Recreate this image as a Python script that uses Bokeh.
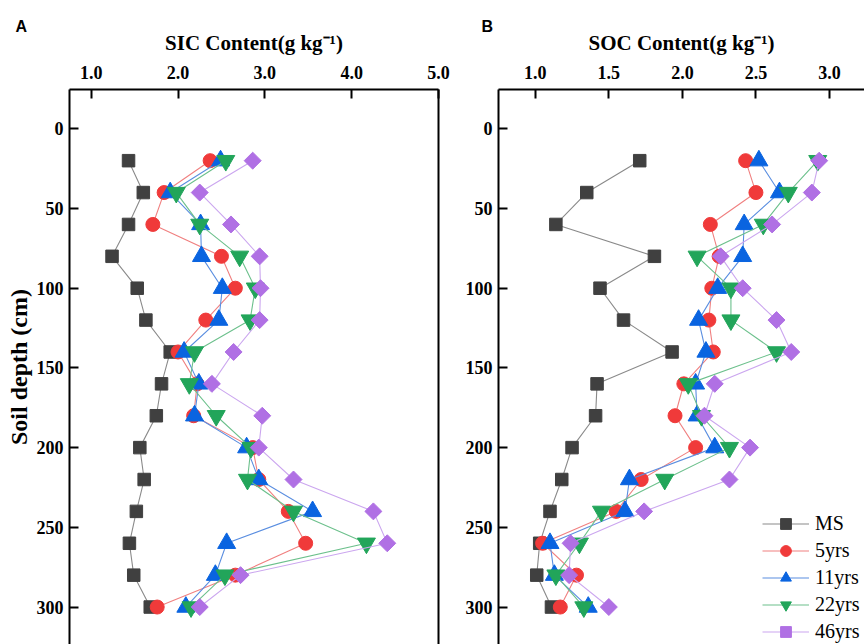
import math
from bokeh.plotting import figure
from bokeh.models import (Range1d, LinearAxis, FixedTicker, Legend,
                          LegendItem, NumeralTickFormatter)
from bokeh.layouts import row
from bokeh.embed import file_html
from bokeh.resources import INLINE

depth = [20, 40, 60, 80, 100, 120, 140, 160, 180, 200, 220, 240, 260, 280, 300]
series_names = ["MS", "5yrs", "11yrs", "22yrs", "46yrs"]

sic_ms = [1.43, 1.60, 1.43, 1.24, 1.53, 1.63, 1.91, 1.81, 1.75, 1.56, 1.61, 1.52, 1.44, 1.49, 1.68]
sic_5 = [2.37, 1.84, 1.71, 2.50, 2.66, 2.32, 2.00, 2.22, 2.18, 2.86, 2.93, 3.27, 3.47, 2.66, 1.76]
sic_11 = [2.49, 1.91, 2.26, 2.27, 2.51, 2.47, 2.07, 2.24, 2.19, 2.79, 2.93, 3.55, 2.56, 2.43, 2.09]
sic_22 = [2.55, 1.98, 2.25, 2.71, 2.89, 2.83, 2.19, 2.13, 2.44, 2.84, 2.80, 3.33, 4.17, 2.54, 2.15]
sic_46 = [2.86, 2.25, 2.61, 2.94, 2.95, 2.94, 2.64, 2.39, 2.97, 2.93, 3.33, 4.25, 4.41, 2.72, 2.25]

soc_ms = [1.71, 1.35, 1.14, 1.81, 1.44, 1.60, 1.93, 1.42, 1.41, 1.25, 1.18, 1.10, 1.03, 1.01, 1.11]
soc_5 = [2.43, 2.50, 2.19, 2.25, 2.20, 2.18, 2.21, 2.01, 1.95, 2.09, 1.72, 1.55, 1.05, 1.28, 1.17]
soc_11 = [2.52, 2.66, 2.42, 2.41, 2.24, 2.11, 2.16, 2.09, 2.10, 2.22, 1.64, 1.61, 1.10, 1.13, 1.36]
soc_22 = [2.92, 2.72, 2.55, 2.10, 2.33, 2.33, 2.64, 2.04, 2.13, 2.32, 1.88, 1.45, 1.30, 1.14, 1.33]
soc_46 = [2.93, 2.88, 2.61, 2.26, 2.41, 2.64, 2.74, 2.22, 2.15, 2.46, 2.32, 1.74, 1.24, 1.23, 1.50]

sic_ticks = [1.0, 2.0, 3.0, 4.0, 5.0]
soc_ticks = [1.0, 1.5, 2.0, 2.5, 3.0]
depth_ticks = [0, 50, 100, 150, 200, 250, 300]

marker_colors = ["#404040", "#f03a3a", "#0a64e0", "#22a55a", "#b070e4"]
line_colors = ["#8a8a8a", "#f08080", "#5a8ee0", "#6cc08c", "#cba6ef"]
markers = ["square", "circle", "triangle", "inverted_triangle", "square"]
sizes = [12.5, 14, 18, 18, 12]
angles = [0, 0, 0, 0, math.pi / 4]

SERIF = "Liberation Serif"


def style_axis(ax, tick_standoff, label_standoff, label_size):
    ax.axis_line_width = 2
    ax.axis_line_color = "black"
    ax.major_tick_in = 9
    ax.major_tick_out = 0
    ax.major_tick_line_width = 2
    ax.major_tick_line_color = "black"
    ax.minor_tick_line_color = None
    ax.major_label_text_font = SERIF
    ax.major_label_text_font_style = "bold"
    ax.major_label_text_font_size = "18px"
    ax.major_label_text_color = "black"
    ax.major_label_standoff = tick_standoff
    ax.axis_label_text_font = SERIF
    ax.axis_label_text_font_style = "bold"
    ax.axis_label_text_font_size = label_size
    ax.axis_label_text_color = "black"
    ax.axis_label_standoff = label_standoff


def make_panel(width, x_range, xticks, xlabel, data, border_left, border_right, ylabel, letter, letter_offset):
    p = figure(width=width, height=644, x_range=x_range,
               y_range=Range1d(323.5, -24.65), x_axis_location="above",
               output_backend="svg", toolbar_location=None,
               min_border_left=border_left, min_border_right=border_right,
               min_border_top=89, min_border_bottom=0)
    p.outline_line_color = None
    p.grid.visible = False
    p.background_fill_color = "white"
    p.border_fill_color = "white"

    p.title.text = letter
    p.title.align = "left"
    p.title.offset = letter_offset
    p.title.standoff = -14
    p.title.text_font = "Liberation Sans"
    p.title.text_font_style = "bold"
    p.title.text_font_size = "16px"
    p.title.text_color = "black"

    xa = p.xaxis[0]
    xa.ticker = FixedTicker(ticks=xticks)
    xa.formatter = NumeralTickFormatter(format="0.0")
    xa.axis_label = xlabel
    style_axis(xa, 11, 8, "21px")

    ya = p.yaxis[0]
    ya.ticker = FixedTicker(ticks=depth_ticks)
    ya.formatter = NumeralTickFormatter(format="0")
    if ylabel:
        ya.axis_label = ylabel
    style_axis(ya, 6, 2, "24px")

    renderers = []
    for i, vals in enumerate(data):
        lr = p.line(vals, depth, line_color=line_colors[i], line_width=1.1)
        sr = p.scatter(vals, depth, marker=markers[i], size=sizes[i], angle=angles[i],
                       fill_color=marker_colors[i], line_color=marker_colors[i])
        renderers.append((lr, sr))
    return p, renderers


p1, r1 = make_panel(455, Range1d(0.75, 5.0), sic_ticks, "SIC Content(g kg\u207b\u00b9)",
                    [sic_ms, sic_5, sic_11, sic_22, sic_46], 69, 17,
                    "Soil depth (cm)", "A", -54)
right_ax = LinearAxis(ticker=FixedTicker(ticks=[]), axis_line_width=2,
                      axis_line_color="black", major_label_text_font_size="0px")
p1.add_layout(right_ax, "right")

p2, r2 = make_panel(409, Range1d(0.75, 3.238), soc_ticks, "SOC Content(g kg\u207b\u00b9)",
                    [soc_ms, soc_5, soc_11, soc_22, soc_46], 43, 0,
                    None, "B", -17)

items = [LegendItem(label=series_names[i], renderers=list(r2[i])) for i in range(5)]
legend = Legend(items=items, location=(264, -1), border_line_color=None,
                background_fill_alpha=0, padding=0, margin=0, spacing=0,
                glyph_width=47, glyph_height=27, label_height=20, label_standoff=6,
                label_text_font=SERIF, label_text_font_size="20px",
                label_text_color="black")
p2.add_layout(legend)

layout = row(p1, p2)
open("out.html", "w").write(file_html(layout, INLINE))
